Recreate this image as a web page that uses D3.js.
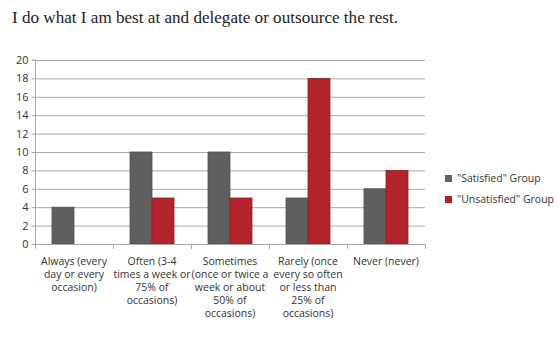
<!DOCTYPE html>
<html><head><meta charset="utf-8">
<script src="https://cdn.jsdelivr.net/npm/d3@7"></script>
<style>body{margin:0;background:#fff}</style>
</head><body>
<svg id="c" width="560" height="347"></svg>
<script>
const title = "I do what I am best at and delegate or outsource the rest.";
const categories = [
  ["Always (every","day or every","occasion)"],
  ["Often (3-4","times a week or","75% of","occasions)"],
  ["Sometimes","(once or twice a","week or about","50% of","occasions)"],
  ["Rarely (once","every so often","or less than","25% of","occasions)"],
  ["Never (never)"]
];
const seriesNames = ['"Satisfied" Group','"Unsatisfied" Group'];
const satisfied = [4,10,10,5,6];
const unsatisfied = [0,5,5,18,8];
const yTicks = [0,2,4,6,8,10,12,14,16,18,20];
const colors = ["#5f5f5f","#b3232b"];
const strokes = ["#505050","#9a1c24"];

const svg = d3.select("#c");
const L=35, R=425, T=60, B=244;
const x = d3.scaleBand().domain(d3.range(categories.length)).range([L,R]);
const x1 = d3.scaleBand().domain([0,1]).range([0,44]);
const y = d3.scaleLinear().domain([0,20]).range([B,T]);

svg.append("text").attr("x",12).attr("y",23).attr("font-family","Liberation Serif, serif")
  .attr("font-size",17).attr("fill","#222").attr("textLength",386).attr("lengthAdjust","spacingAndGlyphs").text(title);

// gridlines
svg.append("g").selectAll("line").data(yTicks.slice(1)).join("line")
  .attr("x1",L).attr("x2",R).attr("y1",d=>y(d)+0.5).attr("y2",d=>y(d)+0.5)
  .attr("stroke","#a8a8a8").attr("stroke-width",1);

const yAxis = svg.append("g").attr("transform",`translate(${L+0.5},0)`)
  .call(d3.axisLeft(y).tickValues(yTicks).tickSize(4).tickPadding(3));
yAxis.select(".domain").attr("stroke","#a8a8a8").attr("d",`M-4,${T}H0V${B}`);
yAxis.selectAll(".tick line").attr("stroke","#a8a8a8");
yAxis.selectAll("text").attr("font-family","Open Sans, sans-serif").attr("font-size",11).attr("fill","#333");

const series=[satisfied,unsatisfied];
const g = svg.append("g");
categories.forEach((c,i)=>{
  const cx = x(i)+x.bandwidth()/2-22;
  series.forEach((s,k)=>{
    if(s[i]>0) g.append("rect").attr("x",cx+x1(k)).attr("width",x1.bandwidth())
      .attr("y",y(s[i])).attr("height",y(0)-y(s[i]))
      .attr("fill",colors[k]).attr("stroke",strokes[k]).attr("stroke-width",0.8);
  });
});

// x axis
const xg = svg.append("g");
xg.append("line").attr("x1",L).attr("x2",R).attr("y1",B+0.5).attr("y2",B+0.5).attr("stroke","#a8a8a8");
d3.range(categories.length+1).forEach(i=>{
  const xx = i<categories.length? x(i): R;
  xg.append("line").attr("x1",xx+0.5).attr("x2",xx+0.5).attr("y1",B).attr("y2",B+5).attr("stroke","#a8a8a8");
});
categories.forEach((c,i)=>{
  const t = xg.append("text").attr("text-anchor","middle").attr("font-family","Open Sans, sans-serif")
    .attr("font-size",10.5).attr("fill","#333");
  c.forEach((line,j)=>t.append("tspan").attr("x",x(i)+x.bandwidth()/2).attr("y",265+j*13).text(line));
});

// legend
const lg = svg.append("g");
seriesNames.forEach((n,k)=>{
  lg.append("rect").attr("x",445).attr("y",175+k*21).attr("width",7).attr("height",7).attr("fill",colors[k]);
  lg.append("text").attr("x",457).attr("y",182+k*21).attr("font-family","Open Sans, sans-serif")
    .attr("font-size",10.5).attr("fill","#333").text(n);
});
</script>
</body></html>
